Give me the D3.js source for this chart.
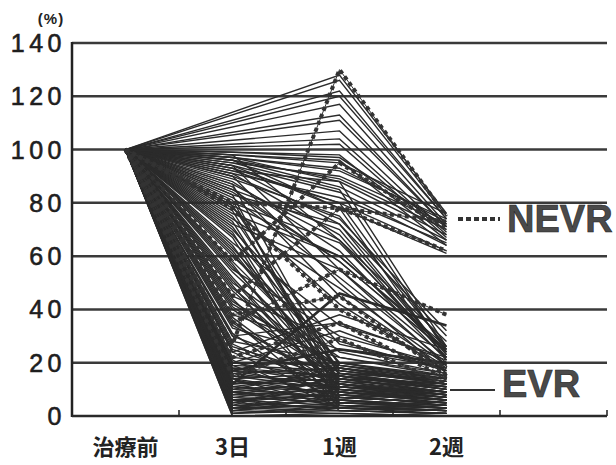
<!DOCTYPE html>
<html>
<head>
<meta charset="utf-8">
<script src="https://cdn.jsdelivr.net/npm/d3@7"></script>
<style>
  body { margin: 0; background: #fff; }
</style>
</head>
<body>
<svg id="chart"></svg>
<script>
// time points and y ticks
const categories = ["治療前", "3日", "1週", "2週"];
const baseline = 100;            // every patient starts at 100 %
const yTicks = [0, 20, 40, 60, 80, 100, 120, 140];

// EVR patients (solid lines), values at 3日 / 1週 / 2週, null = not measured
const evrDay3 = [
  1, 2, 3, 0, 4, 5, 6, 2, 7, 8, 3, 9, 10, 1, 11, 12, 4, 13, 14, 6,
  15, 16, 5, 17, 18, 8, 19, 20, 10, 7, 12, 15, 3, 9, 14, 18, 20, 11, 6, 16,
  22, 25, 28, 30, 33, 35, 38, 40, 42, 45, 48, 50, 52, 55, 58, 60, 62, 65, 68, 70,
  12, 17, 24, 30, 20,
  72, 74, 76, 78, 80, 82, 84, 85, 86, 88, 89, 90, 91, 92, 93, 94, 95, 96, 97, 98,
  92, 94, 95, 96, 97, 93, 98, 91, 96, 94, 97, 99,
  null, null, null, null, null, null, null, null, null, null, null, null,
  24, 27, 31, 34, 37, 41, 44, 47, 51, 54, 57, 61, 64, 67, 71,
  73, 77, 79, 83, 87, 21, 26, 36, 43, 49, 56, 63, 69, 75, 81,
  0, 1, 2, 3, 5, 6, 8, 9, 11, 13, 14, 17, 19, 4, 10,
  83, 87, 79, 90, 85
];
const evrWeek1 = [
  2, 1, 4, 1, 6, 3, 8, 5, 5, 10, 2, 7, 12, 3, 9, 14, 3, 11, 16, 4,
  13, 18, 9, 15, 12, 6, 17, 19, 7, 11, 16, 10, 7, 13, 8, 15, 14, 16, 10, 11,
  18, 12, 20, 15, 22, 10, 25, 14, 19, 28, 16, 22, 9, 30, 18, 24, 13, 34, 20, 27,
  46, 25, 38, 35, 32,
  55, 48, 60, 42, 65, 52, 58, 70, 45, 62, 75, 50, 68, 80, 72, 55, 85, 78, 88, 66,
  88, 84, 90, 86, 92, 80, 95, 82, 89, 78, 93, 97,
  128, 126, 122, 120, 117, 113, 111, 107, 104, 102, 98, 96,
  6, 9, 4, 12, 7, 15, 5, 11, 8, 17, 6, 14, 10, 4, 16,
  9, 12, 19, 7, 15, 3, 14, 2, 18, 3, 12, 20, 5, 17, 11,
  0, 4, 7, 9, 12, 2, 14, 4, 6, 8, 3, 10, 5, 15, 18,
  72, 66, 60, 74, 58
];
const evrWeek2 = [
  1, 0, 2, 0, 3, 2, 4, 3, 4, 6, 1, 5, 7, 2, 6, 9, 1, 8, 10, 2,
  9, 12, 7, 11, 8, 3, 13, 15, 5, 9, 14, 6, 5, 11, 4, 10, 12, 13, 8, 7,
  12, 8, 14, 10, 16, 6, 18, 9, 13, 17, 11, 15, 5, 19, 12, 16, 8, 22, 14, 18,
  34, 20, 25, 21, 17,
  22, 19, 25, 17, 24, 20, 24, 23, 18, 21, 26, 16, 22, 25, 23, 19, 24, 21, 26, 22,
  68, 64, 72, 66, 74, 62, 76, 65, 70, 61, 73, 71,
  76, 75, 74, 74, 72, 71, 71, 69, 68, 67, 66, 64,
  4, 6, 3, 8, 5, 10, 3, 7, 6, 12, 4, 9, 7, 2, 11,
  6, 9, 14, 5, 11, 2, 9, 1, 13, 2, 8, 15, 4, 12, 8,
  1, 2, 5, 6, 9, 1, 10, 3, 4, 6, 2, 7, 3, 12, 14,
  30, 28, 26, 32, 24
];

// NEVR patients (dotted lines)
const nevrDay3  = [27, 58, 80, 45, 35, 15, 38, 22, 78];
const nevrWeek1 = [130, 95, 78, 78, 55, 29, 45, 35, 40];
const nevrWeek2 = [75, 70, 73, 62, 38, 12, 15, 14, 18];

const boldEvr = new Set([60, 61]);

const width = 616, height = 465;
const svg = d3.select("#chart").attr("width", width).attr("height", height);

const slots = [...categories, " "];
const x = d3.scaleBand().domain(slots).range([72, 607]).paddingInner(0).paddingOuter(0);
const cx = c => x(c) + x.bandwidth() / 2;
const y = d3.scaleLinear().domain([0, 140]).range([416, 43]);

// grid lines
svg.append("g").selectAll("line")
  .data(yTicks.filter(t => t > 0))
  .join("line")
  .attr("x1", 72).attr("x2", 607)
  .attr("y1", d => y(d)).attr("y2", d => y(d))
  .attr("stroke", "#3a3a3a").attr("stroke-width", 2.5);

// y labels
svg.append("g").selectAll("text")
  .data(yTicks)
  .join("text")
  .attr("x", 66).attr("y", d => y(d)).attr("dy", "0.36em")
  .attr("text-anchor", "end")
  .style("font-family", "'Liberation Sans', Arial, sans-serif")
  .style("font-size", "25px").style("letter-spacing", "4.5px")
  .attr("fill", "#1e1e1e").attr("stroke", "#1e1e1e").attr("stroke-width", 0.6)
  .text(d => d);

svg.append("text")
  .attr("x", 51).attr("y", 24).attr("text-anchor", "middle")
  .style("font-family", "'Liberation Sans', Arial, sans-serif")
  .style("font-size", "15px").style("font-weight", "bold").style("letter-spacing", "1px")
  .attr("fill", "#222")
  .text("(%)");

// x labels
svg.append("g").selectAll("text")
  .data(categories)
  .join("text")
  .attr("x", d => cx(d)).attr("y", 455)
  .attr("text-anchor", "middle")
  .style("font-family", "'Noto Sans CJK JP', sans-serif")
  .style("font-size", "22px").style("font-weight", "bold")
  .attr("fill", "#222")
  .text(d => d);

// data lines
const line = d3.line().x(p => cx(p.c)).y(p => y(p.v));
const toPoints = vals => categories.map((c, j) => ({ c, v: vals[j] })).filter(p => p.v != null);

const evr = evrDay3.map((d, i) => [baseline, d, evrWeek1[i], evrWeek2[i]]);
const nevr = nevrDay3.map((d, i) => [baseline, d, nevrWeek1[i], nevrWeek2[i]]);

svg.append("g").selectAll("path")
  .data(evr)
  .join("path")
  .attr("fill", "none")
  .attr("stroke", "#2b2b2b")
  .attr("stroke-width", (d, i) => boldEvr.has(i) ? 2.6 : 1.4)
  .attr("d", d => line(toPoints(d)));

const nevrG = svg.append("g");
nevrG.selectAll("path.base")
  .data(nevr)
  .join("path").attr("class", "base")
  .attr("fill", "none").attr("stroke", "#333").attr("stroke-width", 1)
  .attr("d", d => line(toPoints(d)));
nevrG.selectAll("path.dots")
  .data(nevr)
  .join("path").attr("class", "dots")
  .attr("fill", "none").attr("stroke", "#333").attr("stroke-width", 4)
  .attr("stroke-dasharray", "4 3.5")
  .attr("d", d => line(toPoints(d)));

// axes
svg.append("line")
  .attr("x1", 72).attr("x2", 72).attr("y1", y(140) - 1).attr("y2", y(0) + 1)
  .attr("stroke", "#222").attr("stroke-width", 2.5);
svg.append("line")
  .attr("x1", 72).attr("x2", 607).attr("y1", y(0)).attr("y2", y(0))
  .attr("stroke", "#2a2a2a").attr("stroke-width", 2.5);
svg.append("g").selectAll("line")
  .data(slots.slice(1).map(s => x(s)).concat([x.range()[1]]))
  .join("line")
  .attr("x1", d => d).attr("x2", d => d)
  .attr("y1", y(0)).attr("y2", y(0) - 6)
  .attr("stroke", "#2a2a2a").attr("stroke-width", 1.6);

// legend
const legendFont = "'Liberation Sans', Arial, sans-serif";
svg.append("line")
  .attr("x1", 458).attr("x2", 500).attr("y1", 219).attr("y2", 219)
  .attr("stroke", "#333").attr("stroke-width", 4).attr("stroke-dasharray", "5 3");
svg.append("text")
  .attr("x", 507).attr("y", 232)
  .style("font-family", legendFont).style("font-size", "38px").style("font-weight", "bold")
  .attr("fill", "#4a4a4a").attr("stroke", "#222").attr("stroke-width", 0.6)
  .text("NEVR");
svg.append("line")
  .attr("x1", 450).attr("x2", 495).attr("y1", 390).attr("y2", 390)
  .attr("stroke", "#333").attr("stroke-width", 2);
svg.append("text")
  .attr("x", 502).attr("y", 397)
  .style("font-family", legendFont).style("font-size", "38px").style("font-weight", "bold")
  .attr("fill", "#4a4a4a").attr("stroke", "#222").attr("stroke-width", 0.6)
  .text("EVR");
</script>
</body>
</html>
